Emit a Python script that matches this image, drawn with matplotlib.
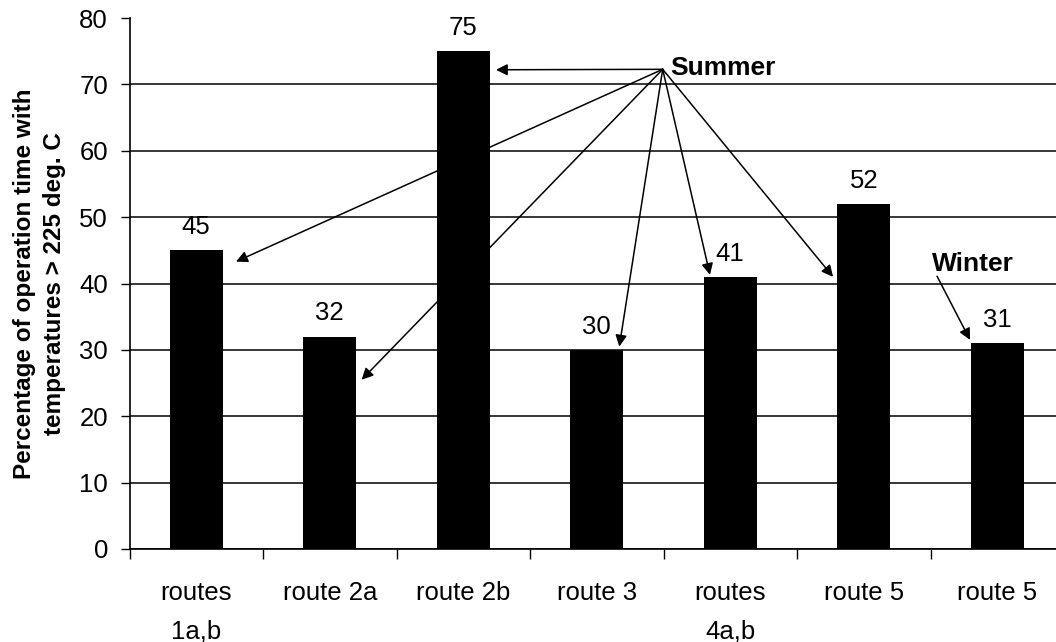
import matplotlib
matplotlib.use("Agg")
import matplotlib.pyplot as plt

plt.rcParams['font.family'] = ['Liberation Sans', 'DejaVu Sans']

# Route categories and share of operating time above 225 deg. C
routes = ["routes\n1a,b", "route 2a", "route 2b", "route 3",
          "routes\n4a,b", "route 5", "route 5"]
percent = [45, 32, 75, 30, 41, 52, 31]
y_ticks = [0, 10, 20, 30, 40, 50, 60, 70, 80]

fig = plt.figure(figsize=(10.56, 6.42), dpi=100)
# axes run slightly past the right edge of the figure
ax = fig.add_axes([129.5 / 1056, 93 / 642, 934.5 / 1056, 531 / 642])

pos = list(range(len(routes)))
ax.bar(pos, percent, width=0.4, color='black', zorder=3)

# value labels above each bar
for i, v in zip(pos, percent):
    ax.annotate(str(v), (i, v), xytext=(0, 8), textcoords='offset points',
                ha='center', va='bottom', fontsize=18.5)

ax.set_xlim(-0.5, len(routes) - 0.5)
ax.set_ylim(0, 80)
ax.set_yticks(y_ticks)
ax.tick_params(axis='y', direction='out', length=6.5, width=1,
               labelsize=18.5, pad=9)

# ticks between categories, labels centred under the bars
ax.set_xticks([p - 0.5 for p in pos])
ax.set_xticklabels([])
ax.set_xticks(pos, minor=True)
ax.set_xticklabels(routes, minor=True, fontsize=18.5, linespacing=1.75)
ax.tick_params(axis='x', which='major', direction='out', length=7, width=1)
ax.tick_params(axis='x', which='minor', length=0, pad=23)

ax.grid(axis='y', color='black', lw=1.1, zorder=1)
ax.get_ygridlines()[-1].set_visible(False)
ax.spines['top'].set_visible(False)
ax.spines['right'].set_visible(False)
for s in ('left', 'bottom'):
    ax.spines[s].set_linewidth(1.2)
    ax.spines[s].set_zorder(4)

ax.set_ylabel("Percentage of operation time with\ntemperatures > 225 deg. C",
              fontsize=17.5, fontweight='bold', linespacing=1.4)
ax.yaxis.set_label_coords(-0.068, 0.5)

# Summer annotation: one label, arrows to the summer routes
summer_xy = (3.494, 72.27)
summer_tips = [(2.245, 72.2), (0.298, 43.3), (1.239, 25.5),
               (3.169, 30.5), (3.848, 41.3), (4.77, 41.0)]
arrow = dict(arrowstyle='-|>', color='black', lw=1.1, shrinkA=0, shrinkB=0,
             mutation_scale=17)
ax.text(3.554, 71.4, "Summer", fontsize=19, fontweight='bold',
        va='baseline', ha='left')
for tip in summer_tips:
    ax.annotate('', xy=tip, xytext=summer_xy, arrowprops=arrow, zorder=5)

# Winter annotation
ax.text(5.509, 41.9, "Winter", fontsize=19, fontweight='bold',
        va='baseline', ha='left')
ax.annotate('', xy=(5.796, 31.5), xytext=(5.549, 41.1), arrowprops=arrow,
            zorder=5)

fig.savefig("out.png", dpi=100)
